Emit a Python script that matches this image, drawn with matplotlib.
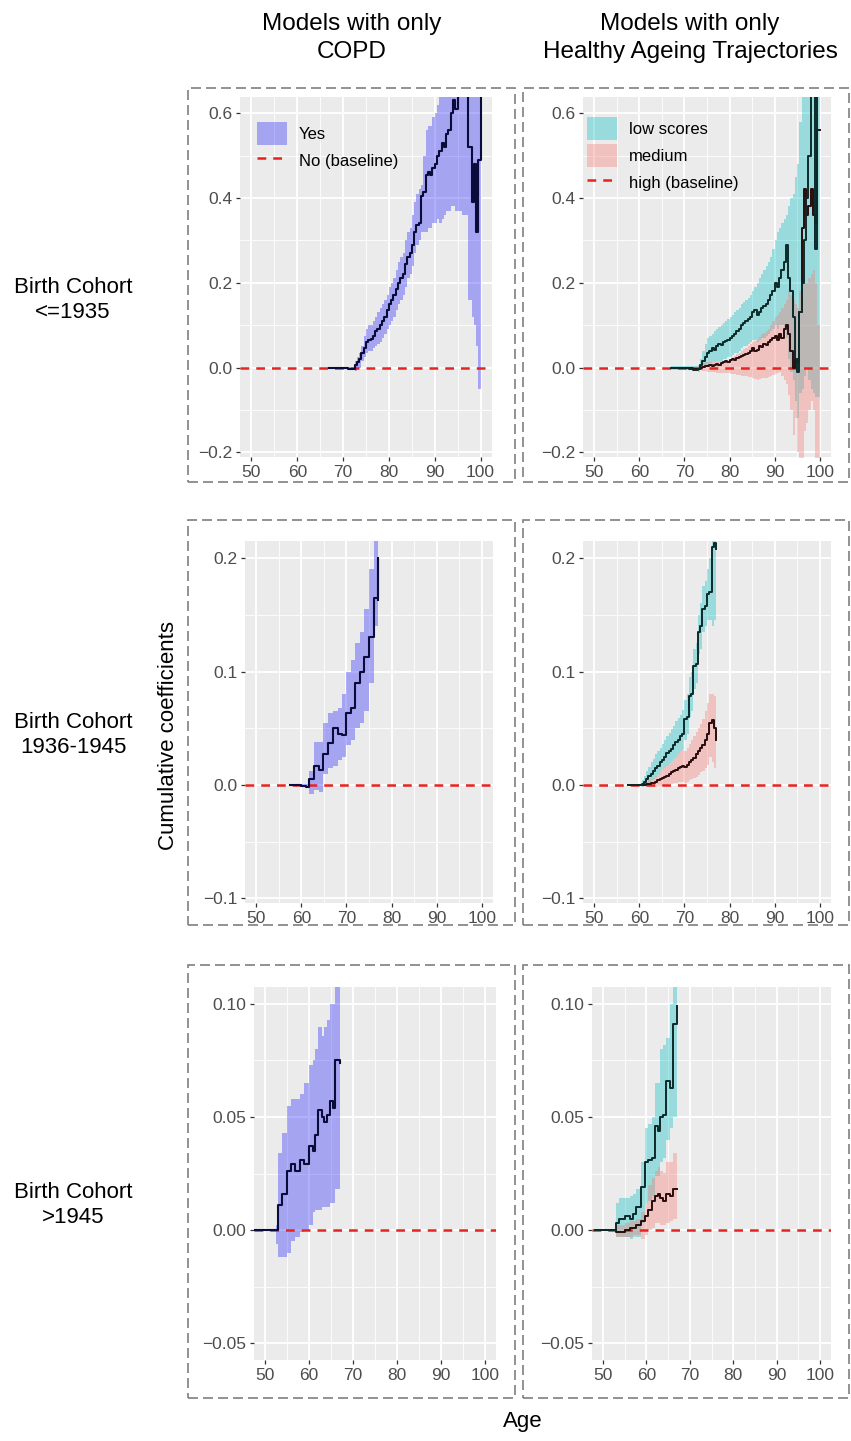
import matplotlib
matplotlib.use("Agg")
import matplotlib.pyplot as plt
from matplotlib.patches import Rectangle, Patch
from matplotlib.lines import Line2D

# ---------------- data ----------------
col_titles = ["Models with only\nCOPD", "Models with only\nHealthy Ageing Trajectories"]
row_labels = ["Birth Cohort\n<=1935", "Birth Cohort\n1936-1945", "Birth Cohort\n>1945"]
x_ticks = [50, 60, 70, 80, 90, 100]
y_ticks_rows = [[-0.2, 0.0, 0.2, 0.4, 0.6], [-0.1, 0.0, 0.1, 0.2], [-0.05, 0.0, 0.05, 0.10]]
y_ticklabels_rows = [["\u22120.2", "0.0", "0.2", "0.4", "0.6"],
                     ["\u22120.1", "0.0", "0.1", "0.2"],
                     ["\u22120.05", "0.00", "0.05", "0.10"]]
ylims_rows = [(-0.211, 0.638), (-0.104, 0.215), (-0.0575, 0.1075)]

# Panel A: COPD, cohort <=1935
A_age = [67, 68, 69, 70, 71, 72, 72.5, 73, 73.5, 74, 74.5, 75, 75.5, 76, 76.5, 77, 77.5, 78, 78.5, 79,
         79.5, 80, 80.5, 81, 81.5, 82, 82.5, 83, 83.5, 84, 84.5, 85, 85.5, 86, 86.5, 87, 87.5, 88, 88.5, 89,
         89.5, 90, 90.5, 91, 91.5, 92, 92.5, 93, 93.5, 94, 94.5, 95, 96, 97.2, 98.2, 98.6, 99.1, 99.4, 100]
A_est = [0, 0, 0, -0.002, -0.003, -0.004, 0.005, 0.012, 0.02, 0.035, 0.045, 0.06, 0.065, 0.068, 0.075, 0.085, 0.09, 0.1, 0.11, 0.12,
         0.135, 0.15, 0.16, 0.17, 0.185, 0.2, 0.21, 0.22, 0.245, 0.26, 0.27, 0.29, 0.32, 0.335, 0.34, 0.405, 0.415, 0.455, 0.46, 0.455,
         0.47, 0.48, 0.5, 0.51, 0.53, 0.52, 0.55, 0.56, 0.6, 0.63, 0.61, 0.66, 0.70, 0.52, 0.39, 0.48, 0.32, 0.49, 0.70]
A_hi = [0.002, 0.002, 0.002, 0.002, 0.002, 0.002, 0.015, 0.025, 0.035, 0.05, 0.075, 0.09, 0.1, 0.1, 0.11, 0.12, 0.13, 0.14, 0.15, 0.16,
        0.17, 0.19, 0.2, 0.21, 0.23, 0.25, 0.26, 0.27, 0.3, 0.32, 0.33, 0.36, 0.39, 0.41, 0.42, 0.43, 0.5, 0.56, 0.57, 0.57,
        0.59, 0.6, 0.62, 0.7, 0.7, 0.7, 0.7, 0.7, 0.7, 0.7, 0.7, 0.7, 0.7, 0.7, 0.7, 0.7, 0.7, 0.7, 0.7]
A_lo = [-0.003, -0.003, -0.003, -0.003, -0.003, -0.003, -0.008, -0.004, 0.0, 0.015, 0.025, 0.035, 0.04, 0.04, 0.045, 0.05, 0.055, 0.06, 0.07, 0.08,
        0.09, 0.1, 0.11, 0.12, 0.135, 0.15, 0.16, 0.17, 0.19, 0.21, 0.22, 0.24, 0.27, 0.29, 0.3, 0.32, 0.32, 0.32, 0.33, 0.33,
        0.34, 0.34, 0.35, 0.34, 0.35, 0.36, 0.37, 0.37, 0.38, 0.38, 0.37, 0.37, 0.36, 0.16, 0.12, 0.1, 0.05, -0.05, -0.1]

# Panel B: Healthy Ageing Trajectories, cohort <=1935
B_age = [67, 68, 69, 70, 71, 72, 73, 73.5, 74, 74.5, 75, 75.5, 76, 76.5, 77, 77.5, 78, 78.5, 79, 79.5,
         80, 80.5, 81, 81.5, 82, 82.5, 83, 83.5, 84, 84.5, 85, 85.5, 86, 86.5, 87, 87.5, 88, 88.5, 89, 89.5,
         90, 90.5, 91, 91.5, 92, 92.5, 93, 93.5, 94, 94.5, 95, 95.5, 96, 96.5, 97, 97.5, 98, 98.5, 99, 99.5, 100]
B_low = [0, 0, 0, -0.002, -0.004, -0.006, -0.003, 0.005, 0.015, 0.025, 0.035, 0.04, 0.045, 0.042, 0.05, 0.055, 0.052, 0.06, 0.062, 0.065,
         0.07, 0.075, 0.08, 0.085, 0.09, 0.1, 0.105, 0.11, 0.115, 0.12, 0.13, 0.135, 0.125, 0.13, 0.14, 0.145, 0.15, 0.16, 0.17, 0.18,
         0.2, 0.19, 0.21, 0.23, 0.25, 0.29, 0.21, 0.18, 0.12, 0.02, -0.01, 0.13, 0.2, 0.3, 0.4, 0.5, 0.7, 0.7, 0.28, 0.7, 0.7]
B_low_hi = [0.003, 0.003, 0.003, 0.003, 0.003, 0.003, 0.005, 0.02, 0.04, 0.055, 0.07, 0.075, 0.08, 0.085, 0.09, 0.095, 0.1, 0.105, 0.11, 0.115,
            0.12, 0.125, 0.13, 0.135, 0.14, 0.15, 0.155, 0.16, 0.165, 0.17, 0.18, 0.19, 0.2, 0.21, 0.22, 0.23, 0.24, 0.25, 0.26, 0.28,
            0.3, 0.32, 0.33, 0.34, 0.35, 0.36, 0.38, 0.4, 0.41, 0.45, 0.48, 0.58, 0.7, 0.7, 0.7, 0.7, 0.7, 0.7, 0.7, 0.7, 0.7]
B_low_lo = [-0.006, -0.006, -0.006, -0.006, -0.006, -0.006, -0.01, -0.005, 0.0, 0.005, 0.007, 0.01, 0.012, 0.012, 0.015, 0.015, 0.015, 0.02, 0.02, 0.025,
            0.025, 0.03, 0.035, 0.035, 0.04, 0.045, 0.05, 0.05, 0.055, 0.06, 0.065, 0.065, 0.06, 0.065, 0.07, 0.07, 0.075, 0.08, 0.085, 0.09,
            0.1, 0.09, 0.1, 0.1, 0.09, 0.07, 0.02, -0.01, -0.03, -0.08, -0.12, -0.06, -0.05, -0.02, 0.0, -0.03, -0.05, -0.06, -0.07, -0.07, -0.07]
B_med = [0, 0, 0, -0.001, -0.002, -0.004, -0.004, 0.0, 0.002, 0.003, 0.004, 0.005, 0.004, 0.006, 0.008, 0.007, 0.01, 0.012, 0.015, 0.013,
         0.018, 0.02, 0.018, 0.022, 0.025, 0.028, 0.03, 0.033, 0.035, 0.04, 0.045, 0.04, 0.042, 0.05, 0.048, 0.055, 0.052, 0.06, 0.065, 0.07,
         0.075, 0.065, 0.08, 0.07, 0.09, 0.1, 0.08, 0.04, 0.0, 0.02, 0.01, 0.13, 0.33, 0.42, 0.36, 0.38, 0.42, 0.36, 0.34, 0.56, 0.56]
B_med_hi = [0.002, 0.002, 0.002, 0.002, 0.002, 0.002, 0.004, 0.006, 0.01, 0.012, 0.013, 0.013, 0.014, 0.014, 0.015, 0.015, 0.015, 0.016, 0.017, 0.018,
            0.02, 0.024, 0.028, 0.031, 0.035, 0.04, 0.043, 0.046, 0.05, 0.055, 0.06, 0.062, 0.065, 0.072, 0.08, 0.082, 0.085, 0.092, 0.1, 0.11,
            0.12, 0.125, 0.13, 0.14, 0.15, 0.16, 0.18, 0.17, 0.16, 0.15, 0.14, 0.18, 0.2, 0.2, 0.2, 0.21, 0.22, 0.23, 0.2, 0.1, 0.1]
B_med_lo = [-0.003, -0.003, -0.003, -0.003, -0.003, -0.003, -0.006, -0.007, -0.008, -0.009, -0.01, -0.01, -0.01, -0.011, -0.012, -0.012, -0.012, -0.013, -0.014, -0.014,
            -0.015, -0.015, -0.016, -0.017, -0.018, -0.019, -0.02, -0.021, -0.022, -0.023, -0.025, -0.028, -0.03, -0.028, -0.025, -0.025, -0.025, -0.022, -0.02, -0.018,
            -0.015, -0.012, -0.01, -0.02, -0.03, -0.04, -0.065, -0.1, -0.16, -0.12, -0.2, -0.25, -0.25, -0.15, -0.13, -0.1, -0.08, -0.1, -0.25, -0.25, -0.25]

# Panel C: COPD, cohort 1936-1945
C_age = [57.5, 58, 59, 60, 61, 61.8, 62.9, 64, 64.8, 65.9, 67, 68.1, 69, 69.9, 71, 71.8, 72.9, 74, 75.1, 76, 76.95, 77.1]
C_est = [0, 0, 0, -0.001, -0.002, 0.005, 0.017, 0.013, 0.027, 0.037, 0.05, 0.045, 0.044, 0.063, 0.068, 0.09, 0.1, 0.113, 0.13, 0.165, 0.2, 0.163]
C_hi = [0.001, 0.001, 0.001, 0.001, 0.001, 0.012, 0.038, 0.038, 0.055, 0.063, 0.065, 0.068, 0.08, 0.1, 0.11, 0.125, 0.135, 0.155, 0.19, 0.215, 0.24, 0.24]
C_lo = [-0.001, -0.001, -0.001, -0.002, -0.003, -0.008, -0.004, -0.006, 0.01, 0.015, 0.017, 0.022, 0.025, 0.035, 0.04, 0.05, 0.055, 0.065, 0.09, 0.14, 0.15, 0.15]

# Panel D: Healthy Ageing Trajectories, cohort 1936-1945
D_age = [57.5, 58, 59, 60, 60.5, 61, 61.5, 62, 62.5, 63, 63.5, 64, 64.5, 65, 65.5, 66, 66.5, 67, 67.5, 68,
         68.5, 69, 69.5, 70, 70.5, 71, 71.5, 72, 72.5, 73, 73.5, 74, 74.5, 75, 75.5, 76, 76.5, 77]
D_low = [0, 0, 0, 0.0, 0.001, 0.003, 0.005, 0.008, 0.01, 0.012, 0.015, 0.017, 0.02, 0.022, 0.025, 0.028, 0.03, 0.032, 0.035, 0.038,
         0.04, 0.043, 0.045, 0.058, 0.06, 0.078, 0.08, 0.105, 0.107, 0.135, 0.14, 0.155, 0.158, 0.168, 0.17, 0.21, 0.213, 0.208]
D_low_hi = [0.001, 0.001, 0.001, 0.001, 0.004, 0.008, 0.012, 0.016, 0.02, 0.023, 0.027, 0.03, 0.033, 0.036, 0.04, 0.043, 0.046, 0.049, 0.052, 0.056,
            0.059, 0.062, 0.066, 0.075, 0.08, 0.095, 0.1, 0.12, 0.125, 0.15, 0.16, 0.175, 0.18, 0.19, 0.2, 0.23, 0.24, 0.24]
D_low_lo = [-0.001, -0.001, -0.001, -0.001, -0.002, -0.001, 0.0, 0.002, 0.004, 0.005, 0.007, 0.009, 0.011, 0.013, 0.015, 0.017, 0.019, 0.021, 0.023, 0.025,
            0.027, 0.03, 0.032, 0.04, 0.045, 0.06, 0.065, 0.085, 0.09, 0.115, 0.12, 0.135, 0.14, 0.145, 0.145, 0.14, 0.145, 0.145]
D_med = [0, 0, 0, 0, 0, 0.0, 0.001, 0.001, 0.002, 0.002, 0.003, 0.004, 0.005, 0.006, 0.007, 0.008, 0.01, 0.011, 0.012, 0.013,
         0.015, 0.016, 0.017, 0.016, 0.018, 0.02, 0.022, 0.024, 0.027, 0.03, 0.033, 0.035, 0.04, 0.045, 0.055, 0.057, 0.05, 0.04]
D_med_hi = [0.001, 0.001, 0.001, 0.001, 0.001, 0.001, 0.003, 0.004, 0.005, 0.006, 0.008, 0.009, 0.011, 0.013, 0.015, 0.017, 0.019, 0.021, 0.023, 0.025,
            0.027, 0.03, 0.032, 0.03, 0.033, 0.036, 0.04, 0.043, 0.047, 0.05, 0.054, 0.058, 0.065, 0.072, 0.08, 0.08, 0.078, 0.078]
D_med_lo = [-0.001, -0.001, -0.001, -0.001, -0.001, -0.001, -0.002, -0.002, -0.002, -0.002, -0.002, -0.001, -0.001, -0.001, 0.0, 0.0, 0.001, 0.001, 0.002, 0.002,
            0.003, 0.003, 0.003, 0.002, 0.003, 0.004, 0.005, 0.006, 0.007, 0.009, 0.011, 0.012, 0.015, 0.018, 0.025, 0.02, 0.015, 0.015]

# Panel E: COPD, cohort >1945
E_age = [47.7, 49, 50, 51, 52, 52.4, 52.9, 53.8, 54.9, 55.9, 56.8, 58, 58.9, 59.9, 61, 61.4, 62, 62.9, 63.5, 64, 64.8, 65.5, 66, 67]
E_est = [0, 0, 0, 0, 0, 0, 0.011, 0.016, 0.026, 0.029, 0.026, 0.031, 0.029, 0.037, 0.035, 0.042, 0.053, 0.05, 0.048, 0.051, 0.057, 0.054, 0.075, 0.074]
E_hi = [0, 0, 0, 0, 0, 0.002, 0.034, 0.043, 0.055, 0.058, 0.058, 0.06, 0.065, 0.073, 0.075, 0.08, 0.09, 0.086, 0.09, 0.093, 0.1, 0.1, 0.12, 0.12]
E_lo = [0, 0, 0, 0, 0, -0.006, -0.012, -0.012, -0.01, -0.005, -0.003, -0.001, 0.0, 0.002, 0.008, 0.009, 0.009, 0.01, 0.01, 0.01, 0.012, 0.012, 0.018, 0.018]

# Panel F: Healthy Ageing Trajectories, cohort >1945
F_age = [48.3, 50, 52, 53.1, 53.8, 55, 56.2, 56.9, 57.7, 58.8, 59.6, 60.4, 61.2, 61.9, 62.7, 63.1, 63.9, 64.5, 65.4, 66.2, 67]
F_low = [0, 0, 0, 0.003, 0.005, 0.006, 0.005, 0.007, 0.01, 0.019, 0.03, 0.031, 0.032, 0.046, 0.044, 0.05, 0.051, 0.066, 0.063, 0.091, 0.099]
F_low_hi = [0, 0, 0, 0.012, 0.014, 0.014, 0.015, 0.016, 0.018, 0.03, 0.045, 0.047, 0.05, 0.065, 0.065, 0.08, 0.082, 0.085, 0.1, 0.115, 0.115]
F_low_lo = [0, 0, 0, -0.003, -0.003, -0.003, -0.004, -0.003, -0.003, 0.003, 0.012, 0.013, 0.015, 0.024, 0.024, 0.03, 0.032, 0.04, 0.045, 0.05, 0.05]
F_med = [0, 0, 0, -0.001, -0.001, 0.0, 0.001, 0.001, 0.002, 0.004, 0.006, 0.009, 0.013, 0.015, 0.016, 0.014, 0.013, 0.016, 0.015, 0.018, 0.018]
F_med_hi = [0, 0, 0, 0.002, 0.002, 0.003, 0.004, 0.004, 0.005, 0.008, 0.012, 0.02, 0.023, 0.026, 0.028, 0.026, 0.025, 0.03, 0.03, 0.034, 0.034]
F_med_lo = [0, 0, 0, -0.003, -0.003, -0.003, -0.003, -0.002, -0.002, -0.004, -0.002, 0.0, 0.001, 0.003, 0.003, 0.002, 0.002, 0.003, 0.004, 0.005, 0.005]

copd_labels = ["Yes", "No (baseline)"]
hat_labels = ["low scores", "medium", "high (baseline)"]

# ---------------- styling ----------------
plt.rcParams['font.family'] = ['Liberation Sans', 'DejaVu Sans']
W, H = 851, 1441
fig = plt.figure(figsize=(W / 100, H / 100), dpi=100)
fig.patch.set_facecolor('white')

PANEL_BG = '#EBEBEB'
BLUE = '#0000FF'
TEAL = '#00BFC4'
PINK = '#F8766D'
RED = '#E52420'
A_BLUE, A_TEAL, A_PINK = 0.30, 0.35, 0.35


def add_ax(l, t, r, b):
    return fig.add_axes([l / W, 1 - b / H, (r - l) / W, (b - t) / H])


# axes boxes in pixels (left, top, right, bottom)
boxes = [
    [(240, 97, 492, 457), (583, 97, 831, 457)],
    [(245, 541, 493, 903), (583, 541, 831, 903)],
    [(254, 987, 496, 1360), (592, 987, 831, 1360)],
]
frames = [[(188, 88, 515, 482), (523, 88, 849, 482)],
          [(188, 520, 515, 925), (523, 520, 849, 925)],
          [(188, 965, 515, 1398), (523, 965, 849, 1398)]]


def style_ax(ax, r):
    ax.set_facecolor(PANEL_BG)
    ax.set_xlim(47.5, 102.5)
    ax.set_ylim(*ylims_rows[r])
    ax.set_xticks(x_ticks)
    ax.set_xticklabels([str(v) for v in x_ticks])
    ax.set_yticks(y_ticks_rows[r])
    ax.set_yticklabels(y_ticklabels_rows[r])
    xt = x_ticks
    ax.set_xticks([(xt[i] + xt[i + 1]) / 2 for i in range(len(xt) - 1)], minor=True)
    yt = y_ticks_rows[r]
    ax.set_yticks([(yt[i] + yt[i + 1]) / 2 for i in range(len(yt) - 1)], minor=True)
    ax.grid(which='major', color='white', lw=1.3)
    ax.grid(which='minor', color='white', lw=0.6)
    ax.set_axisbelow(True)
    for s in ax.spines.values():
        s.set_visible(False)
    ax.tick_params(which='major', direction='out', length=3, width=0.9, color='#333333',
                   labelsize=12.5, labelcolor='#4D4D4D', pad=2.5)
    ax.tick_params(which='minor', length=0)


def baseline(ax):
    ax.axhline(0, color=RED, lw=1.8, dashes=(3.5, 2.8), zorder=5)


def copd_panel(ax, age, est, lo, hi):
    ax.fill_between(age, lo, hi, step='post', color=BLUE, alpha=A_BLUE, lw=0, zorder=2)
    baseline(ax)
    ax.step(age, est, where='post', color='#0B0B3B', lw=1.5, zorder=6)


def hat_panel(ax, age_l, low, low_lo, low_hi, age_m, med, med_lo, med_hi):
    ax.fill_between(age_l, low_lo, low_hi, step='post', color=TEAL, alpha=A_TEAL, lw=0, zorder=2)
    ax.fill_between(age_m, med_lo, med_hi, step='post', color=PINK, alpha=A_PINK, lw=0, zorder=2)
    baseline(ax)
    ax.step(age_m, med, where='post', color='#2A0C0C', lw=1.4, zorder=6)
    ax.step(age_l, low, where='post', color='#0C2A2A', lw=1.4, zorder=6)


axes = [[add_ax(*boxes[r][c]) for c in range(2)] for r in range(3)]
for r in range(3):
    for c in range(2):
        style_ax(axes[r][c], r)

copd_panel(axes[0][0], A_age, A_est, A_lo, A_hi)
hat_panel(axes[0][1], B_age, B_low, B_low_lo, B_low_hi, B_age, B_med, B_med_lo, B_med_hi)
copd_panel(axes[1][0], C_age, C_est, C_lo, C_hi)
hat_panel(axes[1][1], D_age, D_low, D_low_lo, D_low_hi, D_age, D_med, D_med_lo, D_med_hi)
copd_panel(axes[2][0], E_age, E_est, E_lo, E_hi)
hat_panel(axes[2][1], F_age, F_low, F_low_lo, F_low_hi, F_age, F_med, F_med_lo, F_med_hi)

# legends
leg_kw = dict(loc='upper left', frameon=False, fontsize=12, borderpad=0, borderaxespad=0,
              handlelength=1.8, handleheight=1.75, labelspacing=0.25, handletextpad=0.7)
hA = [Patch(facecolor=BLUE, alpha=A_BLUE, lw=0),
      Line2D([0], [0], color=RED, lw=1.8, dashes=(3.5, 2.8))]
axes[0][0].legend(hA, copd_labels, bbox_to_anchor=(0.067, 0.93), **leg_kw)
hB = [Patch(facecolor=TEAL, alpha=A_TEAL, lw=0),
      Patch(facecolor=PINK, alpha=A_PINK, lw=0),
      Line2D([0], [0], color=RED, lw=1.8, dashes=(3.5, 2.8))]
axes[0][1].legend(hB, hat_labels, bbox_to_anchor=(0.016, 0.945), **leg_kw)

# dashed frames
for r in range(3):
    for c in range(2):
        l, t, rr, b = frames[r][c]
        fig.patches.append(Rectangle((l / W, 1 - b / H), (rr - l) / W, (b - t) / H,
                                     transform=fig.transFigure, fill=False,
                                     edgecolor='#7F7F7F', lw=1.2, ls=(0, (6, 3))))

# titles and labels
fig.text(352 / W, 1 - 38 / H, col_titles[0], ha='center', va='center', fontsize=17.5, linespacing=1.35)
fig.text(690 / W, 1 - 38 / H, col_titles[1], ha='center', va='center', fontsize=17.5, linespacing=1.35)
for r, y in enumerate([300, 735, 1205]):
    fig.text(73 / W, 1 - y / H, row_labels[r], ha='center', va='center', fontsize=16, linespacing=1.3)
fig.text(168 / W, 1 - 735 / H, "Cumulative coefficients", ha='center', va='center',
         rotation=90, fontsize=16)
fig.text(523 / W, 1 - 1421 / H, "Age", ha='center', va='center', fontsize=16)

fig.savefig("out.png", dpi=100)
